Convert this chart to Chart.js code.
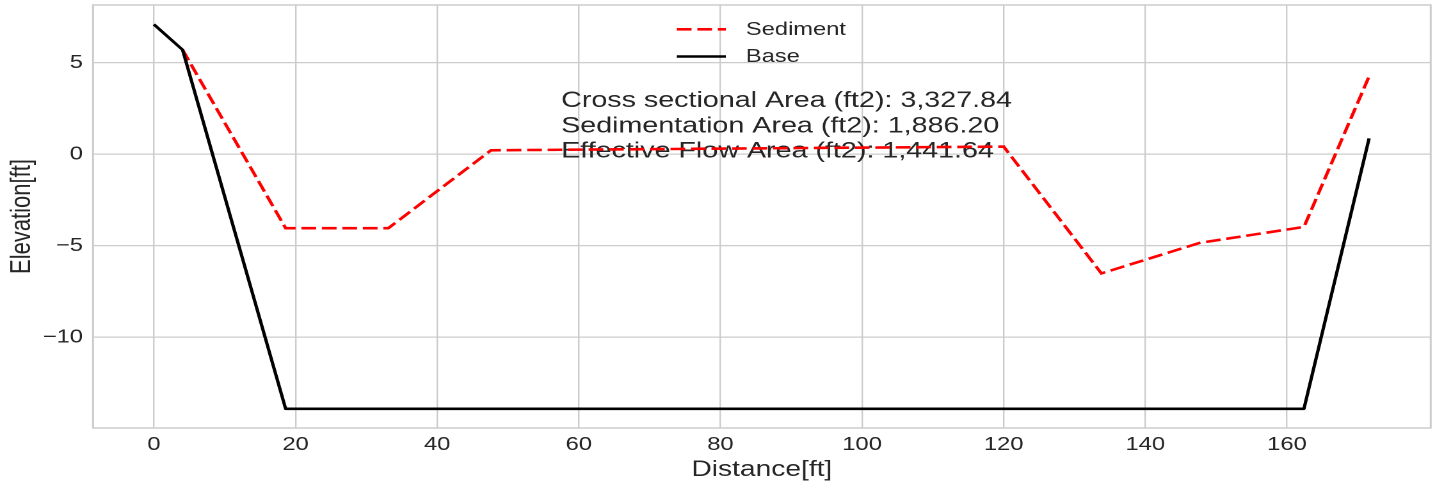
<!DOCTYPE html>
<html>
<head>
<meta charset="utf-8">
<title>Cross section</title>
<script src="https://cdn.jsdelivr.net/npm/chart.js@4.4.1/dist/chart.umd.min.js"></script>
<style>
  html, body { margin: 0; padding: 0; background: #fff; overflow: hidden; }
  canvas { display: block; }
</style>
</head>
<body>
<!-- the reference is stretched sideways, so the canvas is drawn narrow and widened by css -->
<canvas id="xsec" width="1121" height="488" style="width:1435px;height:488px"></canvas>
<script>
'use strict';

// horizontal stretch of the reference picture
const SX = 1435 / 1121;

// ---- data ----
const baseDist = [0, 4.05, 18.6, 162.4, 171.6];
const baseElev = [7.1, 5.71, -13.91, -13.91, 0.87];

const sedDist = [4.05, 18.6, 33.1, 47.6, 120.0, 133.8, 147.7, 162.4, 171.6];
const sedElev = [5.71, -4.04, -4.04, 0.22, 0.42, -6.51, -4.84, -3.97, 4.26];

const xTicks = [0, 20, 40, 60, 80, 100, 120, 140, 160];
const yTicks = [-10, -5, 0, 5];

const areaLabels = [
  'Cross sectional Area (ft2): 3,327.84',
  'Sedimentation Area (ft2): 1,886.20',
  'Effective Flow Area (ft2): 1,441.64'
];

const TEXT = '#262626';
const GRID = '#cccccc';
const FONT = "'Liberation Sans', Arial, sans-serif";

function toPoints(xs, ys) {
  return xs.map((x, i) => ({ x, y: ys[i] }));
}

// frame round the plot + the area note (under the lines)
const frameAndNote = {
  id: 'frameAndNote',
  beforeDatasetsDraw(chart) {
    const { ctx, chartArea: a, scales } = chart;
    ctx.save();
    ctx.strokeStyle = GRID;
    ctx.lineWidth = 1.5;
    ctx.strokeRect(a.left, a.top, a.right - a.left, a.bottom - a.top);

    ctx.fillStyle = TEXT;
    ctx.font = '22.4px ' + FONT;
    ctx.textAlign = 'left';
    ctx.textBaseline = 'alphabetic';
    const x0 = scales.x.getPixelForValue(57.5);
    const y0 = scales.y.getPixelForValue(2.58);
    areaLabels.forEach((t, i) => ctx.fillText(t, x0, y0 + i * 25.3));
    ctx.restore();
  }
};

// legend, upper centre, no frame
const topLegend = {
  id: 'topLegend',
  afterDatasetsDraw(chart) {
    const { ctx, chartArea: a } = chart;
    const cx = (a.left + a.right) / 2;
    const rows = [29.3, 56.5];
    ctx.save();
    ctx.font = '18.5px ' + FONT;
    ctx.textBaseline = 'middle';
    ctx.textAlign = 'left';
    chart.data.datasets.forEach((ds, i) => {
      const y = rows[i];
      ctx.beginPath();
      ctx.strokeStyle = ds.borderColor;
      ctx.lineWidth = ds.borderWidth;
      ctx.setLineDash(ds.borderDash || []);
      ctx.moveTo(cx - 85 / SX, y);
      ctx.lineTo(cx - 36 / SX, y);
      ctx.stroke();
      ctx.setLineDash([]);
      ctx.fillStyle = TEXT;
      ctx.fillText(ds.label, cx - 16 / SX, y + 0.5);
    });
    ctx.restore();
  }
};

const minusSign = v => String(v).replace('-', '\u2212');

new Chart(document.getElementById('xsec'), {
  type: 'scatter',
  data: {
    datasets: [
      {
        label: 'Sediment',
        data: toPoints(sedDist, sedElev),
        showLine: true,
        borderColor: '#ff0000',
        borderWidth: 2.6,
        borderDash: [11.5, 4.5],
        borderCapStyle: 'butt',
        pointRadius: 0,
        tension: 0,
        order: 2
      },
      {
        label: 'Base',
        data: toPoints(baseDist, baseElev),
        showLine: true,
        borderColor: '#000000',
        borderWidth: 2.6,
        borderJoinStyle: 'round',
        pointRadius: 0,
        tension: 0,
        order: 1
      }
    ]
  },
  options: {
    responsive: false,
    animation: false,
    devicePixelRatio: 2,
    layout: { padding: { top: 5, right: (1435 - 1430.7) / SX, left: 0, bottom: 0 } },
    plugins: {
      legend: { display: false },
      tooltip: { enabled: false }
    },
    scales: {
      x: {
        type: 'linear',
        min: -8.6,
        max: 180.3,
        afterBuildTicks: s => { s.ticks = xTicks.map(v => ({ value: v })); },
        afterFit: s => { s.height = 60; s.paddingLeft = 0; s.paddingRight = 0; },
        grid: { color: GRID, lineWidth: 1.2, drawTicks: false },
        border: { display: false },
        ticks: { color: TEXT, padding: 6, font: { family: FONT, size: 18.5 }, callback: minusSign, maxRotation: 0 },
        title: { display: true, text: 'Distance[ft]', color: TEXT, font: { family: FONT, size: 22 }, padding: { top: 0, bottom: 4.8 } }
      },
      y: {
        type: 'linear',
        min: -14.96,
        max: 8.16,
        afterBuildTicks: s => { s.ticks = yTicks.map(v => ({ value: v })); },
        afterFit: s => { s.width = 93 / SX; s.paddingTop = 0; s.paddingBottom = 0; },
        grid: { color: GRID, lineWidth: 1.2, drawTicks: false },
        border: { display: false },
        ticks: { color: TEXT, padding: 10 / SX, font: { family: FONT, size: 18.5 }, callback: minusSign },
        title: { display: true, text: 'Elevation[ft]', color: TEXT, font: { family: FONT, size: 22 }, padding: { top: 4, bottom: 0 } }
      }
    }
  },
  plugins: [frameAndNote, topLegend]
});
</script>
</body>
</html>
